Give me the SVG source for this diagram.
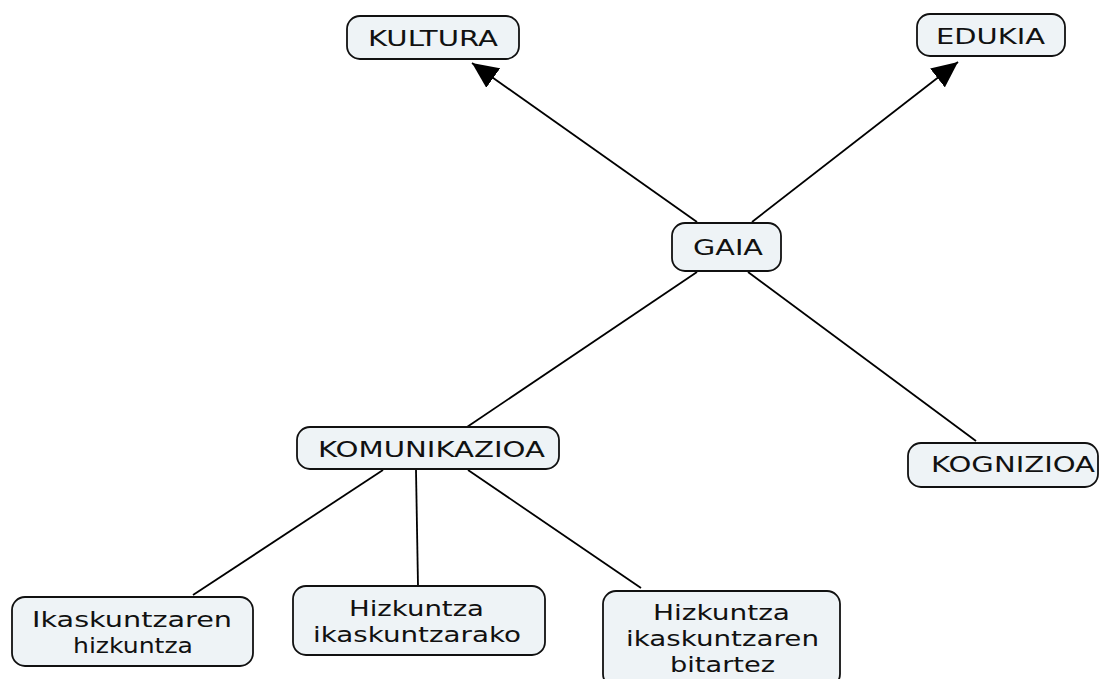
<svg xmlns="http://www.w3.org/2000/svg" width="1105" height="679" viewBox="0 0 1105 679">
<style>
.box{fill:#eef3f6;stroke:#111;stroke-width:1.8}
.t{font-family:"DejaVu Sans",Verdana,sans-serif;font-size:22px;fill:#111;text-anchor:middle}
.c{stroke:#000;stroke-width:1.8;fill:none}
</style>
<defs>
<marker id="ah" markerUnits="userSpaceOnUse" markerWidth="28" markerHeight="24" refX="26" refY="12" orient="auto">
<path d="M0,0 L26,12 L0,24 Z" fill="#000"/>
</marker>
</defs>
<rect width="1105" height="679" fill="#fff"/>
<g id="connectors">
<line class="c" x1="697" y1="222" x2="472" y2="63" marker-end="url(#ah)"/>
<line class="c" x1="752" y1="222" x2="958" y2="62" marker-end="url(#ah)"/>
<line class="c" x1="697" y1="272" x2="467" y2="427"/>
<line class="c" x1="748" y1="272" x2="976" y2="441"/>
<line class="c" x1="383" y1="470" x2="193" y2="595"/>
<line class="c" x1="416" y1="470" x2="418" y2="586"/>
<line class="c" x1="468" y1="470" x2="641" y2="588"/>
</g>
<g id="kultura"><rect class="box" x="347" y="16" width="172" height="43" rx="13"/><text class="t" x="433" y="46" textLength="130" lengthAdjust="spacingAndGlyphs">KULTURA</text></g>
<g id="edukia"><rect class="box" x="917" y="14" width="148" height="42" rx="13"/><text class="t" x="990.5" y="44" textLength="109" lengthAdjust="spacingAndGlyphs">EDUKIA</text></g>
<g id="gaia"><rect class="box" x="672" y="223" width="109" height="48" rx="13"/><text class="t" x="728" y="255" textLength="70" lengthAdjust="spacingAndGlyphs">GAIA</text></g>
<g id="komunikazioa"><rect class="box" x="297" y="427" width="262" height="42" rx="13"/><text class="t" x="431.5" y="457" textLength="227" lengthAdjust="spacingAndGlyphs">KOMUNIKAZIOA</text></g>
<g id="kognizioa"><rect class="box" x="908" y="443" width="190" height="44" rx="13"/><text class="t" x="1013" y="472" textLength="164" lengthAdjust="spacingAndGlyphs">KOGNIZIOA</text></g>
<g id="ikaskuntzaren-hizkuntza"><rect class="box" x="12" y="597" width="241" height="69" rx="13"/><text class="t" x="132" y="627" textLength="200" lengthAdjust="spacingAndGlyphs">Ikaskuntzaren</text><text class="t" x="133" y="653" textLength="120" lengthAdjust="spacingAndGlyphs">hizkuntza</text></g>
<g id="hizkuntza-ikaskuntzarako"><rect class="box" x="293" y="586" width="252" height="69" rx="13"/><text class="t" x="416.5" y="616" textLength="135" lengthAdjust="spacingAndGlyphs">Hizkuntza</text><text class="t" x="417" y="642" textLength="208" lengthAdjust="spacingAndGlyphs">ikaskuntzarako</text></g>
<g id="hizkuntza-bitartez"><rect class="box" x="603" y="591" width="237" height="96" rx="13"/><text class="t" x="721.5" y="620" textLength="137" lengthAdjust="spacingAndGlyphs">Hizkuntza</text><text class="t" x="722.5" y="646" textLength="193" lengthAdjust="spacingAndGlyphs">ikaskuntzaren</text><text class="t" x="722.5" y="672" textLength="105" lengthAdjust="spacingAndGlyphs">bitartez</text></g>
</svg>
